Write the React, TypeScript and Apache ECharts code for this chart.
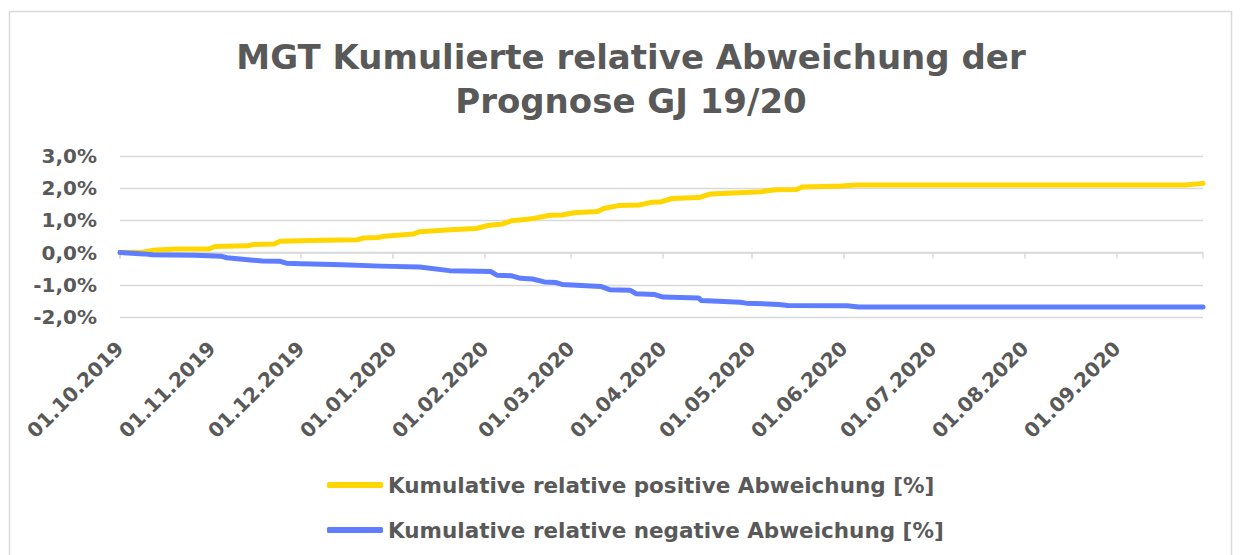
import React, { useEffect, useRef } from 'react';
import * as echarts from 'echarts';

const titleLines = ['MGT Kumulierte relative Abweichung der', 'Prognose GJ 19/20'];
const seriesNames = [
  'Kumulative relative positive Abweichung [%]',
  'Kumulative relative negative Abweichung [%]',
];
const axisStart = '2019-10-01';
const axisEnd = '2020-09-30';
const yTicks = [-2, -1, 0, 1, 2, 3];

const posDates = [
  '2019-10-01', '2019-10-09', '2019-10-12', '2019-10-20', '2019-10-31', '2019-11-02',
  '2019-11-13', '2019-11-15', '2019-11-22', '2019-11-24', '2019-12-08', '2019-12-20',
  '2019-12-22', '2019-12-27', '2019-12-29', '2020-01-08', '2020-01-10', '2020-01-19',
  '2020-01-29', '2020-02-02', '2020-02-07', '2020-02-10', '2020-02-16', '2020-02-23',
  '2020-02-27', '2020-03-02', '2020-03-10', '2020-03-12', '2020-03-17', '2020-03-24',
  '2020-03-28', '2020-03-31', '2020-04-04', '2020-04-13', '2020-04-17', '2020-05-04',
  '2020-05-09', '2020-05-16', '2020-05-18', '2020-05-31', '2020-06-05', '2020-09-24',
  '2020-09-30',
];
const posValues = [
  0, 0.02, 0.07, 0.11, 0.11, 0.19,
  0.21, 0.25, 0.27, 0.35, 0.38, 0.40,
  0.45, 0.47, 0.51, 0.58, 0.65, 0.70,
  0.75, 0.84, 0.89, 0.99, 1.04, 1.16,
  1.17, 1.24, 1.28, 1.37, 1.46, 1.48,
  1.56, 1.57, 1.68, 1.71, 1.82, 1.89,
  1.95, 1.96, 2.04, 2.07, 2.10, 2.10,
  2.15,
];

const negDates = [
  '2019-10-01', '2019-10-09', '2019-10-12', '2019-10-26', '2019-10-31', '2019-11-04',
  '2019-11-06', '2019-11-14', '2019-11-18', '2019-11-24', '2019-11-26', '2019-12-01',
  '2019-12-15', '2019-12-28', '2020-01-10', '2020-01-20', '2020-02-03', '2020-02-05',
  '2020-02-10', '2020-02-13', '2020-02-17', '2020-02-21', '2020-02-25', '2020-02-27',
  '2020-03-11', '2020-03-14', '2020-03-21', '2020-03-23', '2020-03-29', '2020-04-01',
  '2020-04-13', '2020-04-14', '2020-04-27', '2020-04-29', '2020-05-10', '2020-05-13',
  '2020-06-02', '2020-06-06', '2020-09-30',
];
const negValues = [
  0, -0.04, -0.07, -0.08, -0.10, -0.11,
  -0.16, -0.23, -0.26, -0.27, -0.33, -0.35,
  -0.38, -0.42, -0.45, -0.56, -0.59, -0.70,
  -0.72, -0.80, -0.82, -0.91, -0.93, -0.99,
  -1.05, -1.15, -1.17, -1.28, -1.30, -1.38,
  -1.41, -1.49, -1.54, -1.57, -1.61, -1.64,
  -1.65, -1.69, -1.69,
];

const FONT = 'DejaVu Sans';
const TEXT = '#595959';
const GRID = '#d9d9d9';
const YELLOW = '#FFD600';
const BLUE = '#5F7EFF';
const DAY = 86400000;

export default function App() {
  const ref = useRef<HTMLDivElement>(null);
  useEffect(() => {
    document.body.style.margin = '0';
    const chart = echarts.init(ref.current!, null, { renderer: 'svg' });
    const timeCommon = {
      type: 'time',
      min: axisStart,
      max: axisEnd,
      splitNumber: 12,
      minInterval: 28 * DAY,
      maxInterval: 31 * DAY,
      splitLine: { show: false },
    };
    chart.setOption({
      animation: false,
      backgroundColor: '#ffffff',
      graphic: [
        {
          type: 'rect',
          shape: { x: 9.5, y: 11.5, width: 1222, height: 600 },
          style: { fill: 'none', stroke: GRID, lineWidth: 1.5 },
          silent: true,
        },
        {
          type: 'text',
          x: 631,
          y: 57,
          style: {
            text: titleLines[0],
            align: 'center',
            verticalAlign: 'middle',
            fill: TEXT,
            font: `bold 34px "${FONT}"`,
          },
        },
        {
          type: 'text',
          x: 631,
          y: 101,
          style: {
            text: titleLines[1],
            align: 'center',
            verticalAlign: 'middle',
            fill: TEXT,
            font: `bold 34px "${FONT}"`,
          },
        },
      ],
      grid: { left: 120, right: 42, top: 156, bottom: 238, containLabel: false },
      legend: {
        orient: 'vertical',
        left: 322,
        top: 467,
        itemWidth: 56,
        itemHeight: 6,
        itemGap: 19,
        icon: 'roundRect',
        textStyle: { color: TEXT, fontSize: 21.5, fontWeight: 'bold', fontFamily: FONT, lineHeight: 26 },
        data: seriesNames,
      },
      xAxis: [
        {
          ...timeCommon,
          position: 'bottom',
          axisLine: { show: true, onZero: true, lineStyle: { color: GRID, width: 1.5 } },
          axisTick: { show: true, length: 6, lineStyle: { color: GRID, width: 1.5 } },
          axisLabel: { show: false },
        },
        {
          ...timeCommon,
          position: 'bottom',
          axisLine: { show: false, onZero: false },
          axisTick: { show: false },
          axisLabel: {
            show: true,
            rotate: 45,
            margin: 28,
            showMaxLabel: false,
            formatter: '{dd}.{MM}.{yyyy}',
            color: TEXT,
            fontSize: 20,
            fontWeight: 'bold',
            fontFamily: FONT,
          },
        },
      ],
      yAxis: {
        type: 'value',
        min: yTicks[0],
        max: yTicks[yTicks.length - 1],
        interval: 1,
        axisLine: { show: false },
        axisTick: { show: false },
        splitLine: { lineStyle: { color: GRID, width: 1.3 } },
        axisLabel: {
          margin: 23,
          color: TEXT,
          fontSize: 20,
          fontWeight: 'bold',
          fontFamily: FONT,
          formatter: (v: number) => v.toFixed(1).replace('.', ',') + '%',
        },
      },
      series: [
        {
          name: seriesNames[0],
          type: 'line',
          xAxisIndex: 0,
          showSymbol: false,
          symbol: 'none',
          color: YELLOW,
          lineStyle: { color: YELLOW, width: 5, cap: 'round', join: 'round' },
          data: posDates.map((d, i) => [d, posValues[i]]),
          z: 3,
        },
        {
          name: seriesNames[1],
          type: 'line',
          xAxisIndex: 0,
          showSymbol: false,
          symbol: 'none',
          color: BLUE,
          lineStyle: { color: BLUE, width: 5, cap: 'round', join: 'round' },
          data: negDates.map((d, i) => [d, negValues[i]]),
          z: 3,
        },
      ],
    });
    return () => chart.dispose();
  }, []);
  return <div ref={ref} style={{ width: 1245, height: 555 }} />;
}
